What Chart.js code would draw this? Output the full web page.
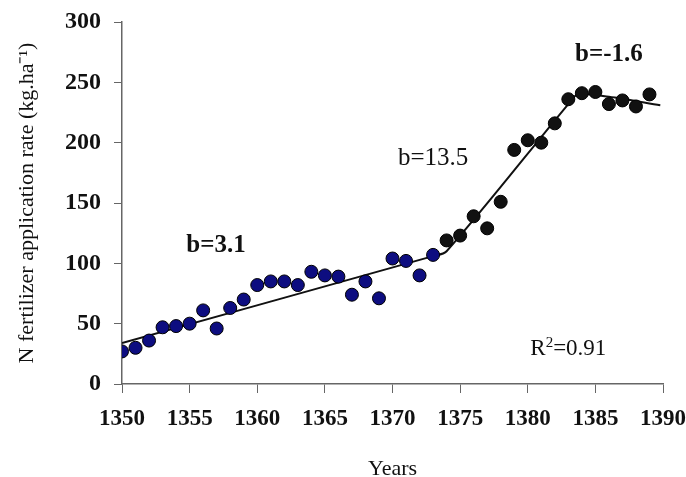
<!DOCTYPE html>
<html>
<head>
<meta charset="utf-8">
<script src="https://cdn.jsdelivr.net/npm/chart.js@4.4.0/dist/chart.umd.min.js"></script>
<style>
  html, body { margin: 0; padding: 0; background: #fff; }
  #wrap { width: 686px; height: 477px; }
</style>
</head>
<body>
<div id="wrap"><canvas id="chart"></canvas></div>
<script>
var years = [1350, 1351, 1352, 1353, 1354, 1355, 1356, 1357, 1358, 1359,
             1360, 1361, 1362, 1363, 1364, 1365, 1366, 1367, 1368, 1369,
             1370, 1371, 1372, 1373, 1374, 1375, 1376, 1377, 1378, 1379,
             1380, 1381, 1382, 1383, 1384, 1385, 1386, 1387, 1388, 1389];
var rates = [27, 30, 36, 47, 48, 50, 61, 46, 63, 70,
             82, 85, 85, 82, 93, 90, 89, 74, 85, 71,
             104, 102, 90, 107, 119, 123, 139, 129, 151, 194,
             202, 200, 216, 236, 241, 242, 232, 235, 230, 240];

// piecewise fitted line
var fitYears = [1350, 1373, 1374, 1383, 1383.7, 1386, 1389.8];
var fitRates = [34, 106, 110, 232, 240, 238, 231];

var yTicks = [0, 50, 100, 150, 200, 250, 300];
var xTicks = [1350, 1355, 1360, 1365, 1370, 1375, 1380, 1385, 1390];

// slope labels [text, year, rate, bold]
var notes = [
  ['b=3.1', 1356.95, 115, true],
  ['b=13.5', 1373.0, 187, false],
  ['b=-1.6', 1386.0, 273, true]
];

var points = years.map(function(y, i) { return { x: y, y: rates[i] } })
var fit = fitYears.map(function(y, i) { return { x: y, y: fitRates[i] } })

var pointColors = years.map(function(y) { return y <= 1373 ? '#0d0d80' : '#111111' })

var notesPlugin = {
  id: 'notes',
  afterDatasetsDraw: function(chart) {
    var ctx = chart.ctx
    var xs = chart.scales.x, ys = chart.scales.y
    ctx.save()
    ctx.fillStyle = '#111'
    ctx.textAlign = 'center'
    ctx.textBaseline = 'middle'
    notes.forEach(function(n) {
      ctx.font = (n[3] ? 'bold ' : '') + '25px "Liberation Serif"'
      ctx.fillText(n[0], xs.getPixelForValue(n[1]), ys.getPixelForValue(n[2]))
    })
    // R squared with superscript
    var rx = xs.getPixelForValue(1383.0), ry = ys.getPixelForValue(29)
    var big = '23px "Liberation Serif"', small = '15px "Liberation Serif"'
    ctx.textAlign = 'left'
    ctx.font = big
    var w1 = ctx.measureText('R').width
    ctx.font = small
    var w2 = ctx.measureText('2').width
    ctx.font = big
    var w3 = ctx.measureText('=0.91').width
    var start = rx - (w1 + w2 + w3) / 2
    ctx.fillText('R', start, ry)
    ctx.font = small
    ctx.fillText('2', start + w1, ry - 6)
    ctx.font = big
    ctx.fillText('=0.91', start + w1 + w2, ry)
    ctx.restore()
  }
}

new Chart(document.getElementById('chart'), {
  type: 'scatter',
  data: {
    datasets: [
      {
        type: 'line',
        label: 'fit',
        data: fit,
        borderColor: '#111',
        borderWidth: 2,
        pointRadius: 0,
        tension: 0.3,
        fill: false,
        order: 2
      },
      {
        label: 'rate',
        data: points,
        backgroundColor: pointColors,
        borderColor: '#000',
        borderWidth: 1,
        pointRadius: 6.5,
        order: 1
      }
    ]
  },
  options: {
    responsive: true,
    maintainAspectRatio: false,
    animation: false,
    layout: { padding: { top: 22, right: 23, left: 0, bottom: 0 } },
    plugins: { legend: { display: false }, tooltip: { enabled: false } },
    scales: {
      x: {
        type: 'linear',
        min: 1350,
        max: 1390,
        afterFit: function(s) {
          s.height = 93
          s.paddingLeft = 0
          s.paddingRight = 0
        },
        afterBuildTicks: function(s) { s.ticks = xTicks.map(function(v) { return { value: v } }) },
        grid: { drawOnChartArea: false, drawTicks: true, tickLength: 9, color: '#666' },
        border: { color: '#666', width: 1.5 },
        ticks: {
          color: '#111',
          padding: 12,
          maxRotation: 0,
          autoSkip: false,
          font: { family: '"Liberation Serif"', size: 23, weight: 'bold' },
          callback: function(v) { return String(v) }
        },
        title: {
          display: true,
          text: 'Years',
          color: '#111',
          padding: { top: 0, bottom: -5 },
          font: { family: '"Liberation Serif"', size: 22 }
        }
      },
      y: {
        min: 0,
        max: 300,
        afterFit: function(s) {
          s.width = 122
          s.paddingTop = 0
          s.paddingBottom = 0
        },
        afterBuildTicks: function(s) { s.ticks = yTicks.map(function(v) { return { value: v } }) },
        grid: { drawOnChartArea: false, drawTicks: true, tickLength: 8, color: '#666' },
        border: { color: '#666', width: 1.5 },
        ticks: {
          color: '#111',
          padding: 13,
          font: { family: '"Liberation Serif"', size: 24, weight: 'bold' }
        },
        title: {
          display: true,
          text: 'N fertilizer application rate (kg.ha⁻¹)',
          color: '#111',
          padding: { top: 14, bottom: 0 },
          font: { family: '"Liberation Serif"', size: 22 }
        }
      }
    }
  },
  plugins: [notesPlugin]
})
</script>
</body>
</html>
